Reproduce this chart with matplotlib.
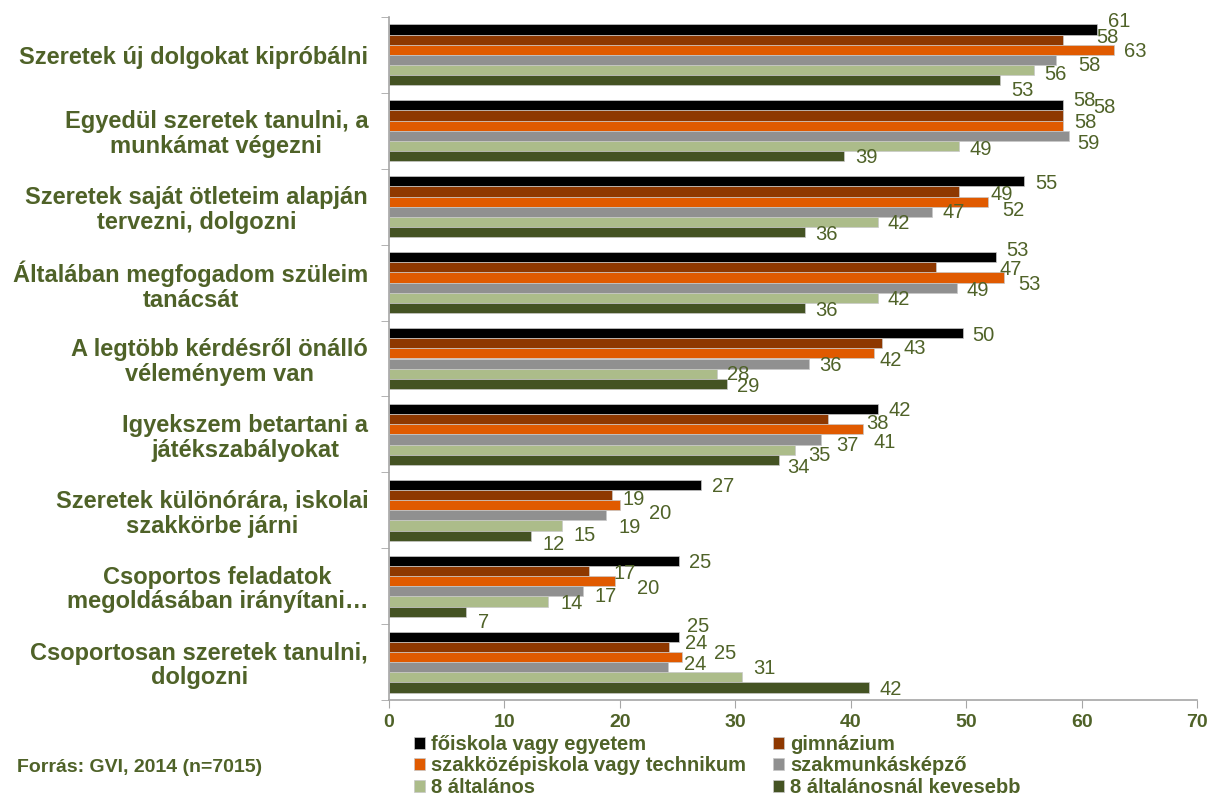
import matplotlib
matplotlib.use("Agg")
import matplotlib.pyplot as plt
import numpy as np

plt.rcParams["font.family"] = ["Liberation Sans", "DejaVu Sans"]

# ============================================================
# 数据
# ============================================================
categories = [
    "Szeretek új dolgokat kipróbálni",
    "Egyedül szeretek tanulni, a\nmunkámat végezni",
    "Szeretek saját ötleteim alapján\ntervezni, dolgozni",
    "Általában megfogadom szüleim\ntanácsát",
    "A legtöbb kérdésről önálló\nvéleményem van",
    "Igyekszem betartani a\njátékszabályokat",
    "Szeretek különórára, iskolai\nszakkörbe járni",
    "Csoportos feladatok\nmegoldásában irányítani…",
    "Csoportosan szeretek tanulni,\ndolgozni",
]
series_names = [
    "főiskola vagy egyetem",
    "gimnázium",
    "szakközépiskola vagy technikum",
    "szakmunkásképző",
    "8 általános",
    "8 általánosnál kevesebb",
]
foiskola   = [61.3, 58.4, 55.0, 52.6, 49.7, 42.4, 27.0, 25.1, 25.1]
gimnazium  = [58.4, 58.4, 49.4, 47.4, 42.7, 38.0, 19.3, 17.3, 24.3]
szakkozep  = [62.8, 58.4, 51.9, 53.3, 42.0, 41.1, 20.0, 19.6, 25.4]
szakmunkas = [57.8, 58.9, 47.0, 49.2, 36.4, 37.4, 18.8, 16.8, 24.2]
altalanos8 = [55.9, 49.4, 42.4, 42.4, 28.4, 35.2, 15.0, 13.8, 30.6]
kevesebb   = [52.9, 39.4, 36.0, 36.0, 29.3, 33.8, 12.3, 6.7, 41.6]
series_vals = [foiskola, gimnazium, szakkozep, szakmunkas, altalanos8, kevesebb]

# 颜色
TXT = "#4F6228"
AXC = "#A6A6A6"
colors = ["#000000", "#8E3800", "#E05A00", "#909090", "#ACBC8A", "#445323"]

# 数据标签微调 (像素: 右移, 下移)
label_nudge = [
    [(11, -10), (33, -4), (10, 0), (22, 3), (10, 2), (12, 8)],
    [(10, -7), (30, -10), (11, -5), (8, 6), (10, 1), (11, -1)],
    [(11, 0), (31, 1), (14, 7), (11, -1), (9, 0), (11, 0)],
    [(10, -9), (63, 0), (14, 5), (10, 1), (9, 0), (11, 0)],
    [(10, 0), (22, 3), (6, 5), (10, 0), (10, -1), (10, 1)],
    [(10, 0), (39, 2), (10, 11), (16, 4), (13, 4), (8, 6)],
    [(11, 0), (11, 2), (29, 6), (12, 10), (11, 8), (12, 7)],
    [(10, 0), (25, 1), (22, 5), (12, 3), (12, 0), (12, 9)],
    [(8, -12), (16, -5), (32, -5), (16, -5), (11, -11), (10, 0)],
]

# ============================================================
# 画图
# ============================================================
W, H = 1219, 796
fig = plt.figure(figsize=(W / 100, H / 100), dpi=100)
ax = fig.add_axes([389 / W, 1 - 700 / H, (1197 - 389) / W, (700 - 17) / H])

y = np.arange(len(categories))
h = 0.134
bars = []
for j, (name, vals, c) in enumerate(zip(series_names, series_vals, colors)):
    off = (j - 2.5) * h
    b = ax.barh(y + off, vals, height=h, color=c, edgecolor="#C8C8C8",
                linewidth=0.5, label=name)
    bars.append(b)
    for i, v in enumerate(vals):
        dx, dy = label_nudge[i][j]
        ax.annotate(f"{v:.0f}", xy=(v, y[i] + off), xytext=(dx, -dy - 2),
                    textcoords="offset pixels", ha="left", va="center",
                    fontsize=14.5, color=TXT)

ax.set_xlim(0, 70)
ax.set_xticks(np.arange(0, 71, 10))
ax.set_ylim(len(categories) - 0.5, -0.5)
ax.set_yticks(y)
ax.set_yticklabels(categories, fontsize=17, fontweight="bold", color=TXT,
                   multialignment="center", linespacing=1.1)
ax.set_yticks(np.arange(-0.5, len(categories)), minor=True)
ax.tick_params(axis="y", which="major", length=0, pad=15)
ax.tick_params(axis="y", which="minor", length=6, color=AXC, direction="out")
ax.tick_params(axis="x", length=6, color=AXC, direction="out", pad=4,
               labelsize=14, labelcolor=TXT)
for t in ax.get_xticklabels():
    t.set_fontweight("bold")

for s in ["top", "right"]:
    ax.spines[s].set_visible(False)
for s in ["left", "bottom"]:
    ax.spines[s].set_color(AXC)
    ax.spines[s].set_linewidth(1.2)

order = [0, 2, 4, 1, 3, 5]
leg = fig.legend([bars[k] for k in order], [series_names[k] for k in order],
                 ncol=2, loc="upper left", bbox_to_anchor=(414 / W, 1 - 735 / H),
                 frameon=False, borderpad=0, borderaxespad=0,
                 fontsize=14.5, handlelength=0.55, handleheight=0.55,
                 handletextpad=0.3, labelspacing=0.12, columnspacing=1.35)
for t in leg.get_texts():
    t.set_color(TXT)
    t.set_fontweight("bold")

fig.text(17 / W, 1 - 768 / H, "Forrás: GVI, 2014 (n=7015)", fontsize=14,
         fontweight="bold", color=TXT, ha="left", va="center")

plt.savefig("out.png", dpi=100, facecolor="white")
plt.close()
